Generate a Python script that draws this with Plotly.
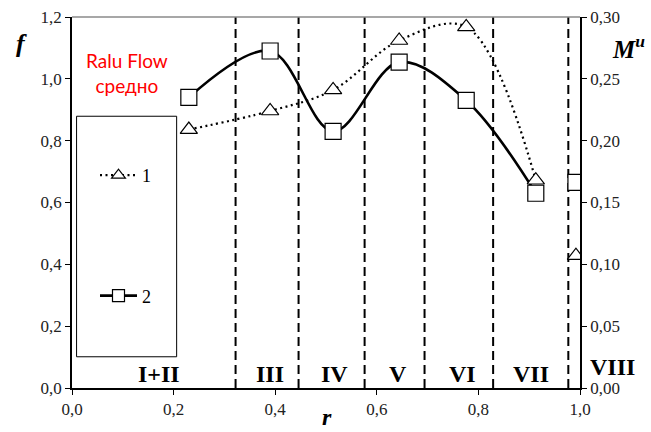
import plotly.graph_objects as go

# ---- data ----
r_vals = [0.23, 0.39, 0.514, 0.644, 0.776, 0.913]
f_series2 = [0.94, 1.09, 0.83, 1.054, 0.93, 0.63]          # squares, left axis f
m_series1 = [0.209, 0.224, 0.241, 0.281, 0.292, 0.168]     # triangles, right axis M^u
r_extra = [0.992]
f_series2_extra = [0.665]
m_series1_extra = [0.107]

zone_bounds = [0.322, 0.446, 0.576, 0.694, 0.829, 0.977]
zone_labels = ["I+II", "III", "IV", "V", "VI", "VII", "VIII"]
zone_label_x = [0.171, 0.389, 0.517, 0.641, 0.768, 0.904, 1.063]
zone_label_y = [0.046, 0.046, 0.046, 0.046, 0.046, 0.046, 0.069]

x_ticks = [0.0, 0.2, 0.4, 0.6, 0.8, 1.0]
f_ticks = [0.0, 0.2, 0.4, 0.6, 0.8, 1.0, 1.2]
m_ticks = [0.0, 0.05, 0.10, 0.15, 0.20, 0.25, 0.30]

serif = "Liberation Serif"
tick_font = dict(family=serif, size=17, color="#222")

# pixel geometry of the plot area (used for paper-placed texts)
L, R, T, B = 72, 71, 17, 44
W, H = 651, 432
PW, PH = W - L - R, H - T - B


def px_to_paper(px, py):
    return (px - L) / PW, (H - B - py) / PH


tri_marker = dict(symbol="triangle-up", size=15, color="white", line=dict(color="black", width=1.2))
sq_marker = dict(symbol="square", size=16, color="white", line=dict(color="black", width=1.2))
dot_line = dict(color="black", width=2.2, dash="2px,3.5px", shape="spline", smoothing=1.0)
solid_line = dict(color="black", width=2.6, shape="spline", smoothing=1.0)

fig = go.Figure()

fig.add_trace(go.Scatter(x=r_vals, y=m_series1, yaxis="y2", showlegend=False,
                         mode="lines+markers", line=dot_line, marker=tri_marker))
fig.add_trace(go.Scatter(x=r_extra, y=m_series1_extra, yaxis="y2", showlegend=False,
                         mode="markers", marker=tri_marker))
fig.add_trace(go.Scatter(x=r_vals, y=f_series2, showlegend=False,
                         mode="lines+markers", line=solid_line, marker=sq_marker))
fig.add_trace(go.Scatter(x=r_extra, y=f_series2_extra, showlegend=False,
                         mode="markers", marker=sq_marker))
# legend entries (smaller symbols, as in the reference legend)
fig.add_trace(go.Scatter(x=[None], y=[None], name="1", legendgroup="1", mode="lines+markers",
                         line=dict(color="black", width=2.2, dash="2px,3.5px"),
                         marker=dict(symbol="triangle-up", size=12, color="white",
                                     line=dict(color="black", width=1.2))))
fig.add_trace(go.Scatter(x=[None], y=[None], name="2", legendgroup="2", mode="lines+markers",
                         line=dict(color="black", width=2.6),
                         marker=dict(symbol="square", size=12, color="white",
                                     line=dict(color="black", width=1.2))))

shapes = []
for b in zone_bounds:
    shapes.append(dict(type="line", xref="x", yref="paper", x0=b, x1=b, y0=0, y1=1,
                       line=dict(color="black", width=2, dash="9px,5px"), layer="below"))
shapes.append(dict(type="line", xref="paper", yref="paper", x0=0, x1=1, y0=1, y1=1,
                   line=dict(color="#8a8a8a", width=1.5)))
shapes.append(dict(type="rect", xref="x", yref="y", x0=0.009, x1=0.206, y0=0.101, y1=0.879,
                   line=dict(color="black", width=1), fillcolor="rgba(0,0,0,0)", layer="below"))

annotations = []
for lab, lx, ly in zip(zone_labels, zone_label_x, zone_label_y):
    if lx <= 1.0:
        annotations.append(dict(x=lx, y=ly, xref="x", yref="y", text="<b>%s</b>" % lab,
                                showarrow=False, xanchor="center", yanchor="middle",
                                font=dict(family=serif, size=24, color="black")))
    else:
        annotations.append(dict(x=lx, y=ly / 1.2, xref="paper", yref="paper", text="<b>%s</b>" % lab,
                                showarrow=False, xanchor="center", yanchor="middle",
                                font=dict(family=serif, size=24, color="black")))
annotations.append(dict(x=0.108, y=1.018, xref="x", yref="y", text="Ralu Flow<br>средно",
                        showarrow=False, align="center", xanchor="center", yanchor="middle",
                        font=dict(family="Lato", size=19, color="red")))
fx, fy = px_to_paper(21, 43)
annotations.append(dict(x=fx, y=fy, xref="paper", yref="paper", xanchor="center", yanchor="middle",
                        text="<b><i>f</i></b>", showarrow=False,
                        font=dict(family=serif, size=26, color="black")))
mx, my = px_to_paper(628, 47)
annotations.append(dict(x=mx, y=my, xref="paper", yref="paper", xanchor="center", yanchor="middle",
                        text="<b><i>M<sup>u</sup></i></b>", showarrow=False,
                        font=dict(family=serif, size=25, color="black")))
rx, ry = px_to_paper(327, 417)
annotations.append(dict(x=rx, y=ry, xref="paper", yref="paper", xanchor="center", yanchor="middle",
                        text="<b><i>r</i></b>", showarrow=False,
                        font=dict(family=serif, size=24, color="black")))

lx, ly = px_to_paper(95, 157)
fig.update_layout(
    width=W, height=H,
    margin=dict(l=L, r=R, t=T, b=B, autoexpand=False),
    paper_bgcolor="white", plot_bgcolor="white",
    separators=", ",
    showlegend=True,
    legend=dict(x=lx, y=ly, xanchor="left", yanchor="top",
                bgcolor="rgba(0,0,0,0)", borderwidth=0, tracegroupgap=94, itemwidth=37,
                font=dict(family=serif, size=18, color="black")),
    xaxis=dict(range=[0, 1], tickvals=x_ticks, tickformat=".1f", ticks="outside", ticklen=5,
               tickcolor="black", showline=True, linecolor="black", linewidth=1.5,
               showgrid=False, zeroline=False, tickfont=tick_font),
    yaxis=dict(range=[0, 1.2], tickvals=f_ticks, tickformat=".1f", ticks="outside", ticklen=5,
               tickcolor="black", showline=True, linecolor="black", linewidth=1.5,
               showgrid=False, zeroline=False, tickfont=tick_font),
    yaxis2=dict(range=[0, 0.3], tickvals=m_ticks, tickformat=".2f", ticks="outside", ticklen=5,
                tickcolor="black", showline=True, linecolor="black", linewidth=1.5,
                overlaying="y", side="right", showgrid=False, zeroline=False, tickfont=tick_font),
    shapes=shapes,
    annotations=annotations,
)

fig.write_html("out.html")
